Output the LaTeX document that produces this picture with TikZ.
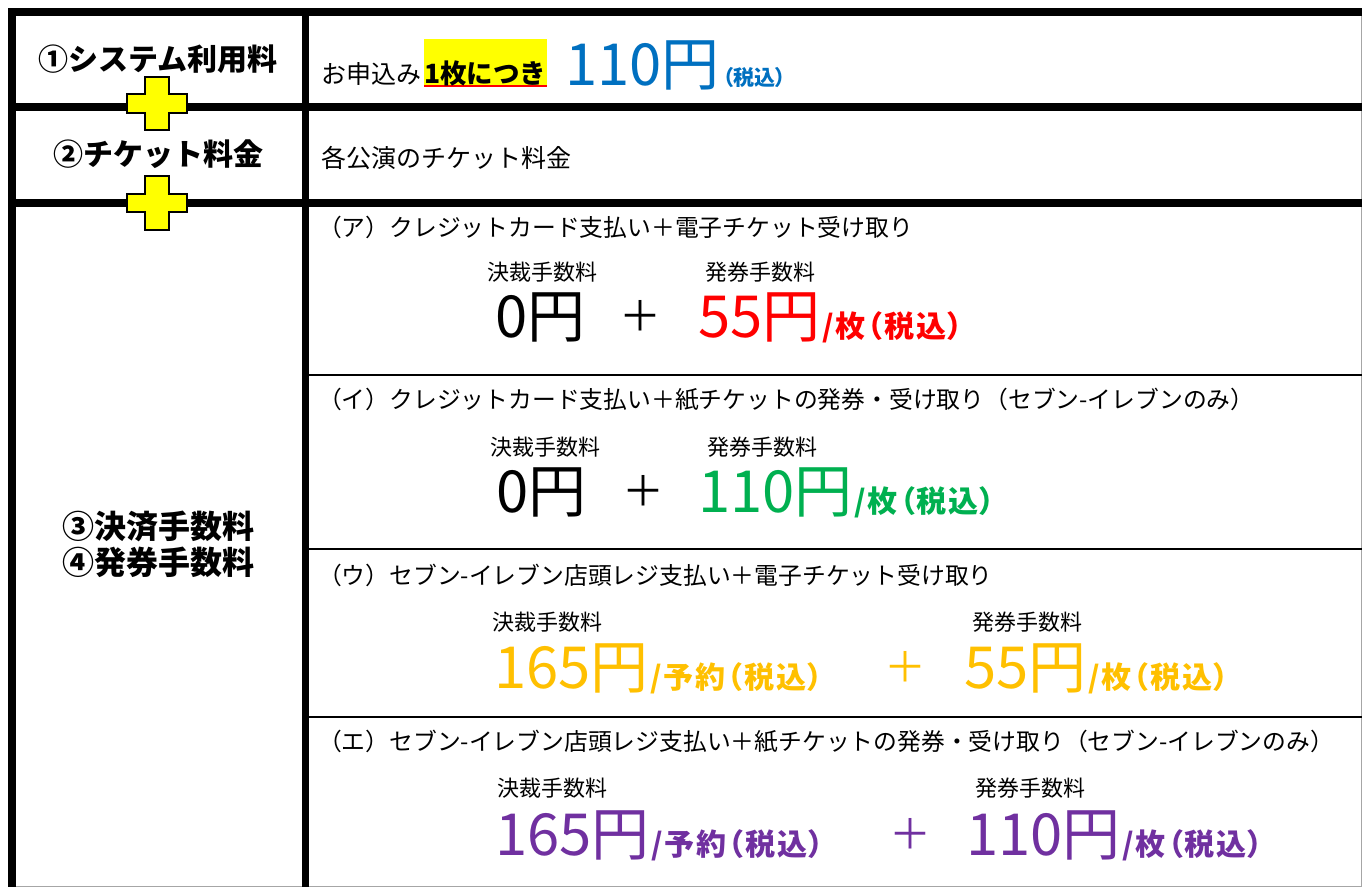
\documentclass[tikz,border=0pt]{standalone}
\usepackage{fontspec}
\setmainfont{Noto Sans CJK JP}
\definecolor{cblue}{HTML}{0070C0}
\definecolor{cred}{HTML}{FF0000}
\definecolor{cgreen}{HTML}{00B050}
\definecolor{corange}{HTML}{FFC000}
\definecolor{cpurple}{HTML}{7030A0}
\definecolor{cyellow}{HTML}{FFFF00}
\definecolor{cgray}{HTML}{A6A6A6}
\newcommand\fsz[1]{\fontsize{#1}{#1}\selectfont}
\newcommand\paltx{\addfontfeature{RawFeature=+palt}}
\newcommand\unitx{\addfontfeature{RawFeature=+palt,LetterSpace=6}}
\begin{document}
\begin{tikzpicture}[x=1pt,y=-1pt,
  txt/.style={inner sep=0pt,outer sep=0pt,anchor=base west},
  ctxt/.style={inner sep=0pt,outer sep=0pt,anchor=base},
  lefttxt/.style={ctxt,font=\fsz{30}\bfseries},
  head/.style={txt,font=\fsz{23.8}},
  lab/.style={txt,font=\fsz{22}},
  big/.style={txt,font=\fsz{58}},
  unit/.style={font=\fsz{30}\bfseries\unitx},
  plus/.style={inner sep=0pt,outer sep=0pt,anchor=center,font=\fsz{42}},
  thickrule/.style={line width=8pt},
  colrule/.style={line width=7pt},
  thinrule/.style={line width=2.5pt},
  cross/.style={fill=cyellow,draw=black,line width=1.5pt}]
\useasboundingbox (0,0) rectangle (1362,887);
\fill[white] (0,0) rectangle (1362,887);
% outer gray edges
\draw[cgray,line width=1pt] (1361.5,8) -- (1361.5,886.5) -- (8,886.5) -- (8,8);
% grid
\draw[thickrule] (8,12) -- (1362,12);
\draw[thickrule] (12,8) -- (12,887);
\draw[colrule] (305.5,8) -- (305.5,887);
\draw[thickrule] (8,106.5) -- (1362,106.5);
\draw[thickrule] (8,202.5) -- (1362,202.5);
\draw[thinrule] (309,375) -- (1362,375);
\draw[thinrule] (309,549) -- (1362,549);
\draw[thinrule] (309,717) -- (1362,717);
% crosses
\draw[cross] (145,77) -- (169,77) -- (169,94) -- (187,94) -- (187,113) -- (169,113) -- (169,130) -- (145,130) -- (145,113) -- (127,113) -- (127,94) -- (145,94) -- cycle;
\draw[cross] (145,176) -- (169,176) -- (169,194) -- (187,194) -- (187,212) -- (169,212) -- (169,230) -- (145,230) -- (145,212) -- (127,212) -- (127,194) -- (145,194) -- cycle;
% left column
\node[lefttxt] (l1) at (158,70) {①システム利用料};
\node[lefttxt] (l2) at (158,165) {②チケット料金};
\node[lefttxt,font=\fsz{32}\bfseries] (l3) at (158,538) {③決済手数料};
\node[lefttxt,font=\fsz{32}\bfseries] (l4) at (158,574) {④発券手数料};
% row 1
\fill[cyellow] (424,39) rectangle (547,87);
\draw[cred,line width=2pt] (424,86) -- (547,86);
\node[txt,font=\fsz{25}] (r1a) at (321,83) {お申込み};
\node[txt,font=\fsz{26.5}\bfseries] (r1b) at (424,83) {1枚につき};
\node[txt,text=cblue,font=\fsz{58}] (r1c) at (565,85) {110円};
\node[txt,text=cblue,font=\fsz{21}\bfseries\paltx] (r1d) at ([xshift=3pt]r1c.base east) {（税込）};
% row 2
\node[txt,font=\fsz{25}] (r2) at (321,167) {各公演のチケット料金};
% (ア)
\node[head] (ha) at (318,236) {（ア）クレジットカード支払い＋電子チケット受け取り};
\node[lab] (a1) at (487,280) {決裁手数料};
\node[lab] (a2) at (705,280) {発券手数料};
\node[big] (a3) at (495,337) {0円};
\node[plus] (a4) at (640,316) {＋};
\node[big,text=cred] (a5) at (698,337) {55円};
% (イ)
\node[head] (hb) at (318,408) {（イ）クレジットカード支払い＋紙チケットの発券・受け取り（セブン-イレブンのみ）};
\node[lab] (b1) at (490,455) {決裁手数料};
\node[lab] (b2) at (707,455) {発券手数料};
\node[big] (b3) at (496,512) {0円};
\node[plus] (b4) at (643,491) {＋};
\node[big,text=cgreen] (b5) at (698,512) {110円};
% (ウ)
\node[head] (hc) at (318,584) {（ウ）セブン-イレブン店頭レジ支払い＋電子チケット受け取り};
\node[lab] (c1) at (492,630) {決裁手数料};
\node[lab] (c2) at (972,630) {発券手数料};
\node[big,text=corange] (c3) at (494,688) {165円};
\node[plus,text=corange] (c4) at (905,667) {＋};
\node[big,text=corange] (c5) at (964,688) {55円};
% (エ)
\node[head] (hd) at (318,750) {（エ）セブン-イレブン店頭レジ支払い＋紙チケットの発券・受け取り（セブン-イレブンのみ）};
\node[lab] (d1) at (497,796) {決裁手数料};
\node[lab] (d2) at (975,796) {発券手数料};
\node[big,text=cpurple] (d3) at (495,855) {165円};
\node[plus,text=cpurple] (d4) at (910,834) {＋};
\node[big,text=cpurple] (d5) at (966,855) {110円};
% units
\node[txt,unit,text=cred] (a6) at ([xshift=2pt]a5.base east) {/枚（税込）};
\node[txt,unit,text=cgreen] (b6) at ([xshift=2pt]b5.base east) {/枚（税込）};
\node[txt,unit,text=corange] (c6) at ([xshift=2pt]c3.base east) {/予約（税込）};
\node[txt,unit,text=corange] (c7) at ([xshift=2pt]c5.base east) {/枚（税込）};
\node[txt,unit,text=cpurple] (d6) at ([xshift=2pt]d3.base east) {/予約（税込）};
\node[txt,unit,text=cpurple] (d7) at ([xshift=2pt]d5.base east) {/枚（税込）};
\end{tikzpicture}
\end{document}
